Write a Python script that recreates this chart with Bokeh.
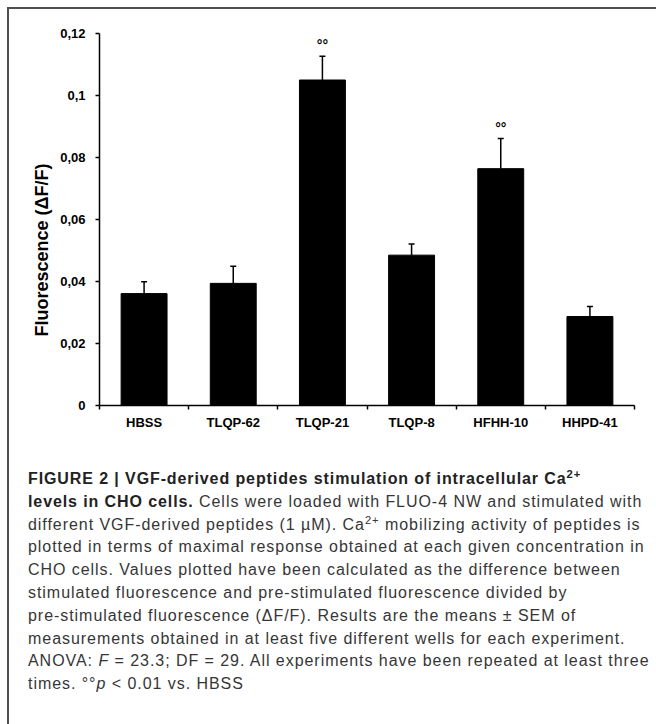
import numpy as np
from bokeh.plotting import figure
from bokeh.models import (Range1d, FixedTicker, CustomJSTickFormatter, ColumnDataSource,
                          Whisker, TeeHead, Div, Title)
from bokeh.layouts import column
from bokeh.core.properties import value
from bokeh.embed import file_html
from bokeh.resources import INLINE

# ---- data ----
categories = ["HBSS", "TLQP-62", "TLQP-21", "TLQP-8", "HFHH-10", "HHPD-41"]
means = [0.0361, 0.0394, 0.1050, 0.0485, 0.0764, 0.0287]
sems = [0.0038, 0.0055, 0.0077, 0.0036, 0.0097, 0.0032]
significance = ["", "", "°°", "", "°°", ""]
y_ticks = [0, 0.02, 0.04, 0.06, 0.08, 0.10, 0.12]
y_label = "Fluorescence (ΔF/F)"

SUP = '<sup style="font-size:0.7em; line-height:0; vertical-align:0.55em;">2+</sup>'
B = '<b style="letter-spacing:0.9px; color:#222;">'
caption_html = (
    B + "FIGURE 2 | VGF-derived peptides stimulation of intracellular Ca" + SUP + "<br>"
    "levels in CHO cells.</b> Cells were loaded with FLUO-4 NW and stimulated with<br>"
    "different VGF-derived peptides (1 &micro;M). Ca" + SUP + " mobilizing activity of peptides is<br>"
    "plotted in terms of maximal response obtained at each given concentration in<br>"
    "CHO cells. Values plotted have been calculated as the difference between<br>"
    "stimulated fluorescence and pre-stimulated fluorescence divided by<br>"
    "pre-stimulated fluorescence (&Delta;F/F). Results are the means &plusmn; SEM of<br>"
    "measurements obtained in at least five different wells for each experiment.<br>"
    "ANOVA: <i>F</i> = 23.3; DF = 29. All experiments have been repeated at least three<br>"
    "times. &deg;&deg;<i>p</i> &lt; 0.01 vs. HBSS"
)

FONT = "Liberation Sans"

x = np.arange(len(categories)) + 0.5
upper = np.array(means) + np.array(sems)
src = ColumnDataSource(dict(x=x, top=means, upper=upper, sig=significance))

p = figure(width=647, height=440,
           x_range=Range1d(0, len(categories)),
           y_range=Range1d(y_ticks[0], y_ticks[-1]),
           output_backend="svg", toolbar_location=None, tools="",
           min_border_left=90, min_border_right=22,
           min_border_top=24, min_border_bottom=44)
p.outline_line_color = None
p.grid.visible = False
p.background_fill_color = "white"
p.border_fill_color = "white"

p.vbar(x="x", top="top", bottom=0, width=0.515, source=src,
       fill_color="black", line_color="black")

p.add_layout(Whisker(base="x", lower="top", upper="upper", source=src,
                     dimension="height", line_width=1.5, line_color="black",
                     lower_head=None,
                     upper_head=TeeHead(size=6, line_width=1.5, line_color="black")))

p.text(x="x", y="upper", text="sig", source=src, text_align="center",
       text_baseline="alphabetic", y_offset=-11,
       text_font=value(FONT), text_font_style="bold",
       text_font_size="14px", text_color="black")

# x axis: labels at bar centres, ticks at category boundaries
xa = p.xaxis[0]
xa.ticker = FixedTicker(ticks=list(x), minor_ticks=list(range(len(categories) + 1)))
xa.formatter = CustomJSTickFormatter(args=dict(cats=categories),
                                     code="return cats[Math.floor(tick)];")
xa.major_tick_in = 0
xa.major_tick_out = 0
xa.minor_tick_in = 0
xa.minor_tick_out = 4
xa.minor_tick_line_width = 1.5
xa.minor_tick_line_color = "black"
xa.axis_line_width = 1.5
xa.axis_line_color = "black"
xa.major_label_standoff = 5
xa.major_label_text_font = FONT
xa.major_label_text_font_style = "bold"
xa.major_label_text_font_size = "13px"
xa.major_label_text_color = "black"

ya = p.yaxis[0]
ya.ticker = FixedTicker(ticks=y_ticks)
ya.formatter = CustomJSTickFormatter(code="""
    let s = tick.toFixed(2).replace(/0+$/, '').replace(/\\.$/, '');
    return s.replace('.', ',');
""")
ya.minor_tick_out = 0
ya.minor_tick_in = 0
ya.major_tick_in = 0
ya.major_tick_out = 4
ya.major_tick_line_width = 1.5
ya.major_tick_line_color = "black"
ya.axis_line_width = 1.5
ya.axis_line_color = "black"
ya.major_label_standoff = 10
ya.major_label_text_font = FONT
ya.major_label_text_font_style = "bold"
ya.major_label_text_font_size = "13px"
ya.major_label_text_color = "black"

# y axis title in the left panel, starting a little above the x axis (as in the reference)
p.add_layout(Title(text=y_label, align="left", offset=69, standoff=12,
                   text_font=FONT, text_font_style="bold",
                   text_font_size="18px", text_color="black"), "left")

caption = Div(
    text=("<div style=\"font-family:'Liberation Sans',Arial,sans-serif; font-size:16px; "
          "line-height:22.8px; letter-spacing:0.95px; color:#363636; white-space:nowrap; "
          "padding:14px 0 0 14px;\">" + caption_html + "</div>"),
    width=647, height=272,
    styles={"background-color": "white"})

layout = column(p, caption, spacing=0,
                styles={"margin-left": "7px", "margin-top": "7px",
                        "border-left": "2px solid #505050",
                        "border-top": "2px solid #505050"})

open("out.html", "w").write(file_html(layout, INLINE))
